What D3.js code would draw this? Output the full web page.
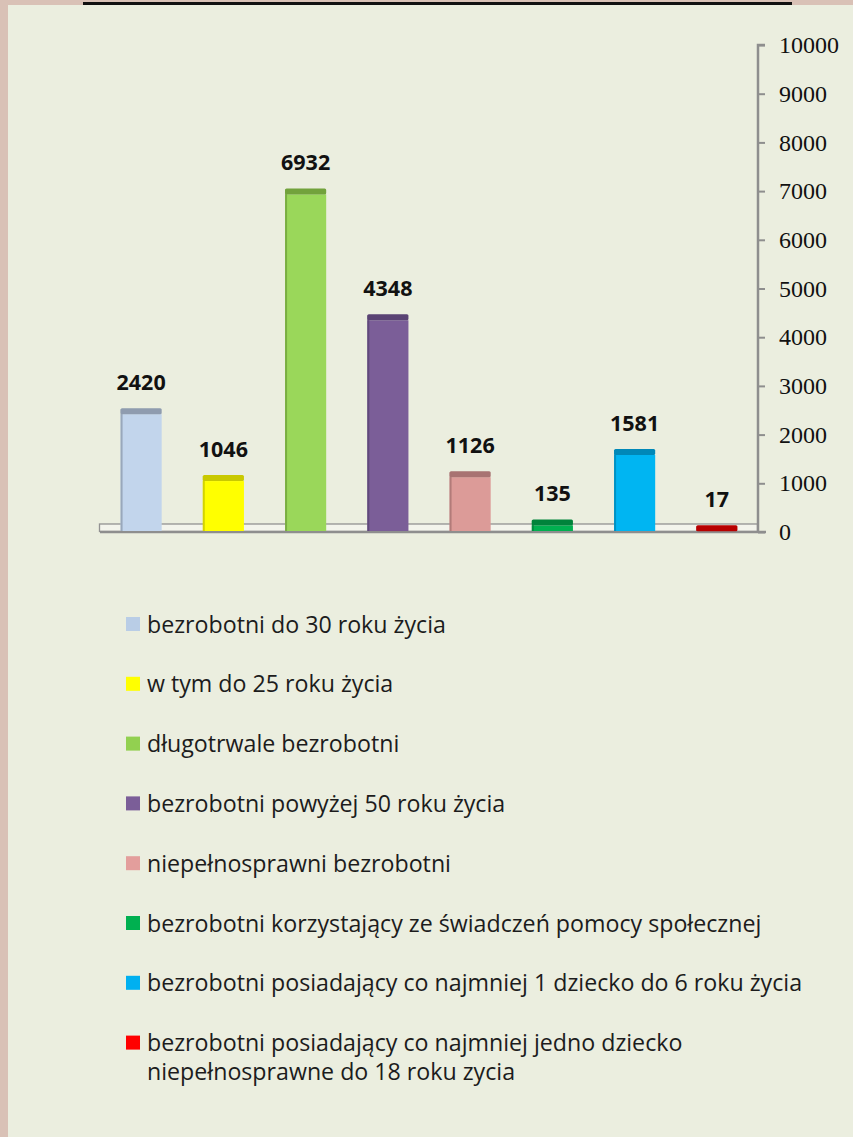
<!DOCTYPE html>
<html>
<head>
<meta charset="utf-8">
<script src="https://cdn.jsdelivr.net/npm/d3@7"></script>
<style>
  body { margin: 0; padding: 0; }
  svg { display: block; }
</style>
</head>
<body>
<div id="chart"></div>
<script>
// chart data
var categories = [
  "bezrobotni do 30 roku życia",
  "w tym do 25 roku życia",
  "długotrwale bezrobotni",
  "bezrobotni powyżej 50 roku życia",
  "niepełnosprawni bezrobotni",
  "bezrobotni korzystający ze świadczeń pomocy społecznej",
  "bezrobotni posiadający co najmniej 1 dziecko do 6 roku życia",
  "bezrobotni posiadający co najmniej jedno dziecko|niepełnosprawne do 18 roku zycia"
];
var values = [2420, 1046, 6932, 4348, 1126, 135, 1581, 17];
var faceColors = ["#c2d5ec", "#ffff00", "#9ad75a", "#7b5e98", "#dc9b98", "#00b050", "#00b5f2", "#e00000"];
var topColors = ["#8f9caf", "#c9c900", "#72a23c", "#5a4374", "#a87372", "#00833b", "#0088b8", "#b80000"];
var legendColors = ["#b9cde6", "#ffff00", "#92d050", "#7b5e98", "#e39e9c", "#00b050", "#00b0f0", "#ff0000"];
var tickValues = [0, 1000, 2000, 3000, 4000, 5000, 6000, 7000, 8000, 9000, 10000];

var svgWidth = 853;
var svgHeight = 1137;

var svg = d3
  .select("#chart")
  .append("svg")
  .attr("width", svgWidth)
  .attr("height", svgHeight);

// page frame
svg.append("rect")
  .attr("width", svgWidth)
  .attr("height", svgHeight)
  .attr("fill", "#d9c1b6");

svg.append("rect")
  .attr("x", 8)
  .attr("y", 5)
  .attr("width", svgWidth - 8)
  .attr("height", svgHeight - 5)
  .attr("fill", "#ebeedf");

// underline of the (cut off) title
svg.append("rect")
  .attr("x", 83)
  .attr("y", 2)
  .attr("width", 709)
  .attr("height", 3)
  .attr("fill", "#111");

// scales
var x = d3
  .scaleBand()
  .domain(categories)
  .range([100, 758])
  .paddingInner(0.5)
  .paddingOuter(0.25);

var y = d3.scaleLinear().domain([0, 10000]).range([532, 45]);

// floor plate
svg.append("rect")
  .attr("x", 99.5)
  .attr("y", 524)
  .attr("width", 658)
  .attr("height", 7.5)
  .attr("fill", "#f3f4ec")
  .attr("stroke", "#929292")
  .attr("stroke-width", 1.3);

// right axis
var rightAxis = d3
  .axisRight(y)
  .tickValues(tickValues)
  .tickSize(7)
  .tickPadding(14)
  .tickFormat(d3.format("d"));

var yAxis = svg
  .append("g")
  .attr("transform", "translate(758, 0)")
  .call(rightAxis);

yAxis.select(".domain")
  .attr("stroke", "#8e8e8e")
  .attr("stroke-width", 2.5)
  .attr("d", "M7,45H0V532");
yAxis.selectAll(".tick line").attr("stroke", "#8e8e8e").attr("stroke-width", 2);
yAxis.selectAll(".tick text")
  .attr("fill", "#111")
  .style("font-family", "'Liberation Serif', serif")
  .style("font-size", "24px");

svg.append("line")
  .attr("x1", 100)
  .attr("x2", 766)
  .attr("y1", 532)
  .attr("y2", 532)
  .attr("stroke", "#8e8e8e")
  .attr("stroke-width", 2.5);

// bars
var bars = svg
  .selectAll(".bar")
  .data(values)
  .enter()
  .append("g")
  .attr("class", "bar");

bars.append("rect")
  .attr("x", (d, i) => x(categories[i]))
  .attr("y", (d) => y(d))
  .attr("width", x.bandwidth())
  .attr("height", (d) => 531 - y(d))
  .attr("fill", (d, i) => faceColors[i]);

bars.append("rect")
  .attr("x", (d, i) => x(categories[i]))
  .attr("y", (d) => y(d) - 6)
  .attr("width", x.bandwidth())
  .attr("height", 6)
  .attr("rx", 1.5)
  .attr("fill", (d, i) => topColors[i]);

bars.append("rect")
  .attr("x", (d, i) => x(categories[i]))
  .attr("y", (d) => y(d) - 5)
  .attr("width", 2)
  .attr("height", (d) => 536 - y(d))
  .attr("fill", (d, i) => topColors[i])
  .attr("opacity", 0.8);

// value labels
bars.append("text")
  .attr("x", (d, i) => x(categories[i]) + x.bandwidth() / 2)
  .attr("y", (d) => y(d) - 24)
  .attr("text-anchor", "middle")
  .style("font-family", "'Open Sans', sans-serif")
  .style("font-weight", 700)
  .style("font-size", "21.5px")
  .attr("fill", "#111")
  .text((d) => d);

// legend
var legend = svg
  .selectAll(".legend")
  .data(categories)
  .enter()
  .append("g")
  .attr("class", "legend")
  .attr("transform", (d, i) => `translate(126, ${624.5 + i * 59.8})`);

legend.append("rect")
  .attr("x", 0)
  .attr("y", -7.5)
  .attr("width", 14)
  .attr("height", 14)
  .attr("fill", (d, i) => legendColors[i]);

legend.append("text")
  .attr("x", 21)
  .attr("y", 8)
  .attr("fill", "#1c1c1c")
  .style("font-family", "'Open Sans', sans-serif")
  .style("font-size", "23.2px")
  .selectAll("tspan")
  .data((d) => d.split("|"))
  .enter()
  .append("tspan")
  .attr("x", 21)
  .attr("dy", (d, i) => (i === 0 ? 0 : 29))
  .text((d) => d);
</script>
</body>
</html>
